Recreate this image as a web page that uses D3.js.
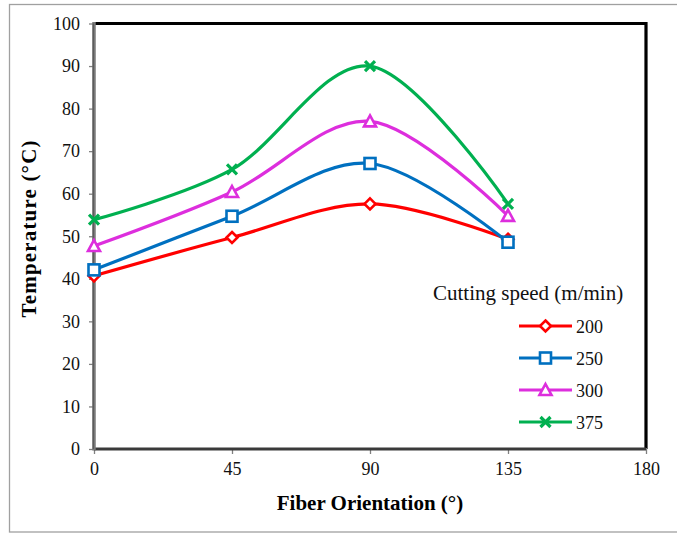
<!DOCTYPE html>
<html><head><meta charset="utf-8">
<script src="https://cdn.jsdelivr.net/npm/d3@7"></script>
<style>body{margin:0;background:#fff}svg{display:block}</style>
</head><body>
<script>
const xValues = [0, 45, 90, 135];
const xTicks = [0, 45, 90, 135, 180];
const yTicks = [0,10,20,30,40,50,60,70,80,90,100];
const seriesNames = ["200", "250", "300", "375"];
const s200 = [40.7, 49.7, 57.6, 49.3];
const s250 = [42.1, 54.7, 67.1, 48.6];
const s300 = [47.7, 60.4, 77.0, 54.8];
const s375 = [53.9, 65.7, 90.0, 57.6];
const colors = ["#FF0000", "#0070C0", "#DD2EDD", "#00B050"];
const markers = ["diamond", "square", "triangle", "x"];
const allSeries = [s200, s250, s300, s375];

const W = 677, H = 533;
const svg = d3.select("body").append("svg").attr("width", W).attr("height", H);
const font = "'Liberation Serif', 'Times New Roman', Times, serif";

svg.append("rect").attr("x", 9.5).attr("y", 4.5).attr("width", 680).attr("height", 527.5)
  .attr("fill", "none").attr("stroke", "#a0a0a0").attr("stroke-width", 1.3);

const x = d3.scaleLinear().domain([0, 180]).range([94, 646]);
const y = d3.scaleLinear().domain([0, 100]).range([449, 23.5]);

// frame top/right
svg.append("path").attr("d", `M${x(0)},${y(100)}H${x(180)}V${y(0)}`)
  .attr("fill", "none").attr("stroke", "#000").attr("stroke-width", 3.2);

// axes
const yAxis = svg.append("g").attr("transform", `translate(${x(0)},0)`)
  .call(d3.axisLeft(y).tickValues(yTicks).tickSize(5).tickPadding(9));
const xAxis = svg.append("g").attr("transform", `translate(0,${y(0)})`)
  .call(d3.axisBottom(x).tickValues(xTicks).tickSize(5).tickPadding(8));
[yAxis, xAxis].forEach(g => {
  g.attr("font-family", font).attr("font-size", 18);
  g.select(".domain").remove();
  g.selectAll(".tick line").attr("stroke", "#808080").attr("stroke-width", 1.3);
  g.selectAll("text").style("font-family", font).style("font-size", "18px").attr("fill", "#111");
});
xAxis.selectAll(".tick line").attr("y1", -1).attr("y2", 5);
svg.append("line").attr("x1", x(0)).attr("x2", x(180)).attr("y1", y(0)).attr("y2", y(0))
  .attr("stroke", "#3a3a3a").attr("stroke-width", 3);
svg.append("line").attr("x1", x(0)).attr("x2", x(0)).attr("y1", y(100) - 1.5).attr("y2", y(0) + 1.5)
  .attr("stroke", "#7a7a7a").attr("stroke-width", 3.5);
svg.append("line").attr("x1", x(0) - 0.8).attr("x2", x(0) - 0.8).attr("y1", y(100)).attr("y2", y(0))
  .attr("stroke", "#444").attr("stroke-width", 0.8);

// axis titles
svg.append("text").attr("x", 370).attr("y", 510).attr("text-anchor", "middle")
  .style("font-family", font).attr("font-weight", "bold").style("font-size", "21px").text("Fiber Orientation (°)");
svg.append("text").attr("transform", "translate(35.5,229) rotate(-90)").attr("text-anchor", "middle")
  .style("font-family", font).attr("font-weight", "bold").style("font-size", "21px")
  .attr("textLength", 177).attr("lengthAdjust", "spacing").text("Temperature (°C)");

const line = d3.line().x((d, i) => x(xValues[i])).y(d => y(d)).curve(d3.curveCardinal.tension(0));

function drawMarker(g, type, cx, cy, color) {
  if (type === "diamond") {
    g.append("path").attr("d", `M${cx},${cy-5.5}L${cx+5.5},${cy}L${cx},${cy+5.5}L${cx-5.5},${cy}Z`)
      .attr("fill", "#fff").attr("stroke", color).attr("stroke-width", 2.6);
  } else if (type === "square") {
    g.append("rect").attr("x", cx - 5.5).attr("y", cy - 5.5).attr("width", 11).attr("height", 11)
      .attr("fill", "#fff").attr("stroke", color).attr("stroke-width", 2.6);
  } else if (type === "triangle") {
    g.append("path").attr("d", `M${cx},${cy-6}L${cx+6},${cy+5}L${cx-6},${cy+5}Z`)
      .attr("fill", "#fff").attr("stroke", color).attr("stroke-width", 2.6);
  } else {
    g.append("path").attr("d", `M${cx-5},${cy-5}L${cx+5},${cy+5}M${cx+5},${cy-5}L${cx-5},${cy+5}`)
      .attr("stroke", color).attr("stroke-width", 3.2).attr("fill", "none");
  }
}

allSeries.forEach((s, k) => {
  const g = svg.append("g");
  g.append("path").datum(s).attr("d", line).attr("fill", "none")
    .attr("stroke", colors[k]).attr("stroke-width", 3.2);
  s.forEach((v, i) => drawMarker(g, markers[k], x(xValues[i]), y(v), colors[k]));
});

// legend
svg.append("text").attr("x", 433).attr("y", 300).style("font-family", font).style("font-size", "21px")
  .attr("fill", "#111").text("Cutting speed (m/min)");
seriesNames.forEach((n, k) => {
  const ly = 326 + k * 32;
  const g = svg.append("g");
  g.append("line").attr("x1", 519).attr("x2", 572).attr("y1", ly).attr("y2", ly)
    .attr("stroke", colors[k]).attr("stroke-width", 3.2);
  drawMarker(g, markers[k], 545.5, ly, colors[k]);
  g.append("text").attr("x", 576).attr("y", ly + 6.5).style("font-family", font).style("font-size", "18px")
    .attr("fill", "#111").text(n);
});
</script>
</body></html>
